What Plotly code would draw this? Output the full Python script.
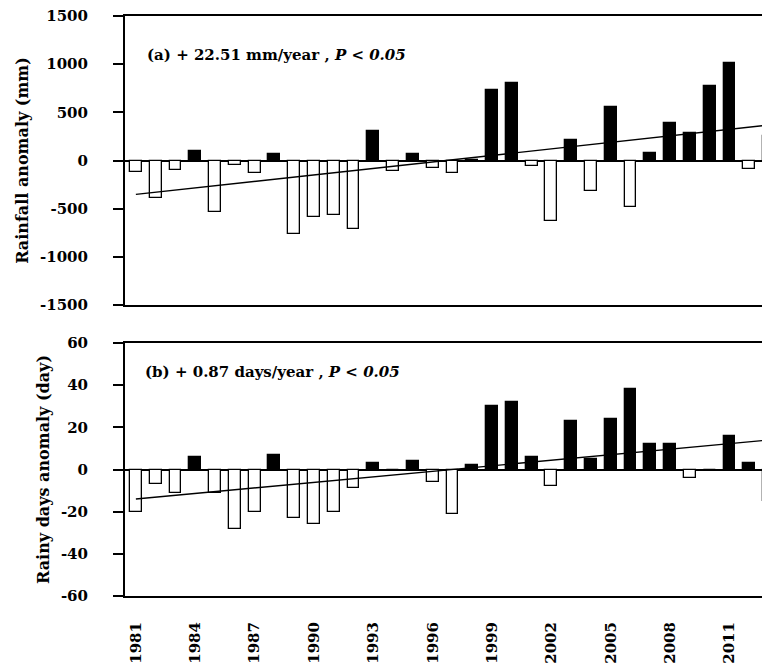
import plotly.graph_objects as go

years = list(range(1981, 2014))
rain_anom = [-115, -390, -100, 100, -530, -48, -134, 69, -765, -586, -569, -714, 303,
             -110, 69, -76, -128, 10, 734, 803, -59, -628, 210, -317, 552, -483, 79,
             390, 286, 776, 1017, -86, 252]
days_anom = [-20, -7, -11, 6, -11, -28, -20, 7, -23, -26, -20, -9, 3,
             0, 4, -6, -21, 2, 30, 32, 6, -8, 23, 5, 24, 38, 12,
             12, -4, 0, 16, 3, -15]
trend_years = [1981, 2013]
trend_rain = [-352, 368]
trend_days = [-14, 14]

x_ticks = list(range(1981, 2012, 3))
rain_ticks = [-1500, -1000, -500, 0, 500, 1000, 1500]
days_ticks = [-60, -40, -20, 0, 20, 40, 60]

FONT = "DejaVu Serif"
W, H = 762, 664  # page body has an 8 px margin


def colors(vals):
    return ["black" if v > 0 else "white" for v in vals]


def labels(vals):
    return [str(v) for v in vals]  # plain hyphen minus


fig = go.Figure()
fig.add_trace(go.Bar(x=years, y=rain_anom, width=0.6,
                     marker=dict(color=colors(rain_anom), line=dict(color="black", width=1.3)),
                     xaxis="x", yaxis="y", showlegend=False))
fig.add_trace(go.Scatter(x=trend_years, y=trend_rain, mode="lines",
                         line=dict(color="black", width=1.4),
                         xaxis="x", yaxis="y", showlegend=False))
fig.add_trace(go.Bar(x=years, y=days_anom, width=0.6,
                     marker=dict(color=colors(days_anom), line=dict(color="black", width=1.3)),
                     xaxis="x2", yaxis="y2", showlegend=False))
fig.add_trace(go.Scatter(x=trend_years, y=trend_days, mode="lines",
                         line=dict(color="black", width=1.4),
                         xaxis="x2", yaxis="y2", showlegend=False))

xrange = [1980.45, 2013.05]
xdom = [117 / W, 1.0]
common_x = dict(range=xrange, showline=True, linecolor="black", linewidth=2, mirror=True,
                showgrid=False, zeroline=False, domain=xdom)
tickfont = dict(family=FONT, size=15, color="black", weight="bold")
titlefont = dict(family=FONT, size=16, color="black", weight="bold")
common_y = dict(showline=True, linecolor="black", linewidth=2, ticks="outside", ticklen=10,
                tickwidth=2, tickcolor="black", showgrid=False, zeroline=True,
                zerolinecolor="black", zerolinewidth=1.6, ticklabelstandoff=22,
                ticklabeloverflow="allow", tickfont=tickfont)

fig.update_layout(
    width=W, height=H, margin=dict(l=0, r=0, t=0, b=0, autoexpand=False),
    paper_bgcolor="white", plot_bgcolor="white", bargap=0,
    font=dict(family=FONT, color="black"),
    xaxis=dict(anchor="y", showticklabels=False, ticks="", **common_x),
    yaxis=dict(anchor="x", domain=[1 - 297 / H, 1 - 8 / H], range=[-1500, 1500],
               tickvals=rain_ticks, ticktext=labels(rain_ticks),
               title=dict(text="Rainfall anomaly (mm)", font=titlefont, standoff=7),
               **common_y),
    xaxis2=dict(anchor="y2", tickvals=x_ticks, ticktext=labels(x_ticks), tickangle=-90,
                ticks="", ticklabelstandoff=18, ticklabeloverflow="allow",
                tickfont=tickfont, **common_x),
    yaxis2=dict(anchor="x2", domain=[1 - 588 / H, 1 - 335 / H], range=[-60, 60],
                tickvals=days_ticks, ticktext=labels(days_ticks),
                title=dict(text="Rainy days anomaly (day)", font=titlefont, standoff=7),
                **common_y),
)

fig.add_annotation(text="<b>(a) + 22.51 mm/year , <i>P</i> < <i>0.05</i></b>",
                   xref="paper", yref="paper", x=137 / W, y=1 - 47 / H,
                   xanchor="left", yanchor="middle", showarrow=False,
                   font=dict(family=FONT, size=15, color="black"))
fig.add_annotation(text="<b>(b) + 0.87 days/year , <i>P</i> < <i>0.05</i></b>",
                   xref="paper", yref="paper", x=135 / W, y=1 - 364 / H,
                   xanchor="left", yanchor="middle", showarrow=False,
                   font=dict(family=FONT, size=15, color="black"))

fig.write_html("out.html")
